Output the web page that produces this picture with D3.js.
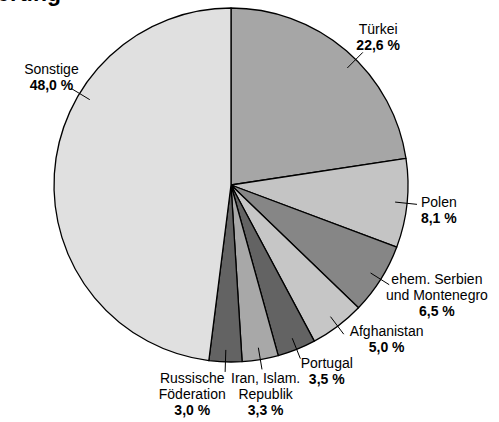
<!DOCTYPE html>
<html>
<head>
<meta charset="utf-8">
<script src="https://cdn.jsdelivr.net/npm/d3@7"></script>
<style>
  body { margin: 0; background: #fff; }
  text { font-family: "Liberation Sans", Arial, sans-serif; }
</style>
</head>
<body>
<svg id="chart" width="499" height="422"></svg>
<script>
// data
var categories = ["Türkei", "Polen", "ehem. Serbien\nund Montenegro", "Afghanistan",
                  "Portugal", "Iran, Islam.\nRepublik", "Russische\nFöderation", "Sonstige"];
var values = [22.6, 8.1, 6.5, 5.0, 3.5, 3.3, 3.0, 48.0];
var fills = ["#a6a6a6", "#c4c4c4", "#868686", "#c6c6c6", "#636363", "#a8a8a8", "#636363", "#e0e0e0"];

// label nudges from the default label spot (dx, dy) and whether the tick points at the label
var nudge = {
  "Türkei": [7, 20, true],
  "Polen": [-6, 8, false],
  "ehem. Serbien\nund Montenegro": [24, 0, false],
  "Afghanistan": [26, -13, false],
  "Portugal": [16, -9, false],
  "Iran, Islam.\nRepublik": [-1, 2, false],
  "Russische\nFöderation": [-32, -1, false],
  "Sonstige": [35, -90, true]
};

var svg = d3.select("#chart");
var cx = 231, cy = 185, r = 177;

var fmt = function(v) { return d3.format(".1f")(v).replace(".", ",") + " %"; };

var data = categories.map(function(c, i) { return { name: c, value: values[i], fill: fills[i] }; });

var pie = d3.pie().sort(null).value(function(d) { return d.value; });
var arc = d3.arc().innerRadius(0).outerRadius(r);
var arcs = pie(data);

// cut-off title at the very top
svg.append("text")
    .attr("x", 61)
    .attr("y", 0.5)
    .attr("text-anchor", "end")
    .style("font-size", "23px")
    .style("font-weight", "bold")
    .text("Ausländische Bevölkerung");

var g = svg.append("g").attr("transform", "translate(" + cx + "," + cy + ")");

g.selectAll("path.slice")
    .data(arcs)
  .enter().append("path")
    .attr("class", "slice")
    .attr("d", arc)
    .attr("fill", function(d) { return d.data.fill; })
    .attr("stroke", "#000")
    .attr("stroke-width", 1.3)
    .attr("stroke-linejoin", "round");

var labelR = 215;

arcs.forEach(function(d) {
  var mid = (d.startAngle + d.endAngle) / 2;
  var n = nudge[d.data.name];
  var lx = labelR * Math.sin(mid) + n[0];
  var ly = -labelR * Math.cos(mid) + n[1];

  // tick across the rim
  var a = n[2] ? Math.atan2(lx, -ly + 5) : mid;
  var r0 = r - 12, r1 = r + 10;
  g.append("line")
      .attr("x1", r0 * Math.sin(a)).attr("y1", -r0 * Math.cos(a))
      .attr("x2", r1 * Math.sin(a)).attr("y2", -r1 * Math.cos(a))
      .attr("stroke", "#000")
      .attr("stroke-width", 1);

  var lines = d.data.name.split("\n").map(function(t) { return { t: t, b: false }; });
  lines.push({ t: fmt(d.data.value), b: true });
  var lh = 16;
  var t = g.append("text")
      .attr("text-anchor", "middle")
      .style("font-size", "14px")
      .attr("fill", "#000");
  lines.forEach(function(l, i) {
    t.append("tspan")
        .attr("x", lx)
        .attr("y", ly + (i - (lines.length - 1) / 2) * lh)
        .style("font-weight", l.b ? "bold" : "normal")
        .text(l.t);
  });
});
</script>
</body>
</html>
